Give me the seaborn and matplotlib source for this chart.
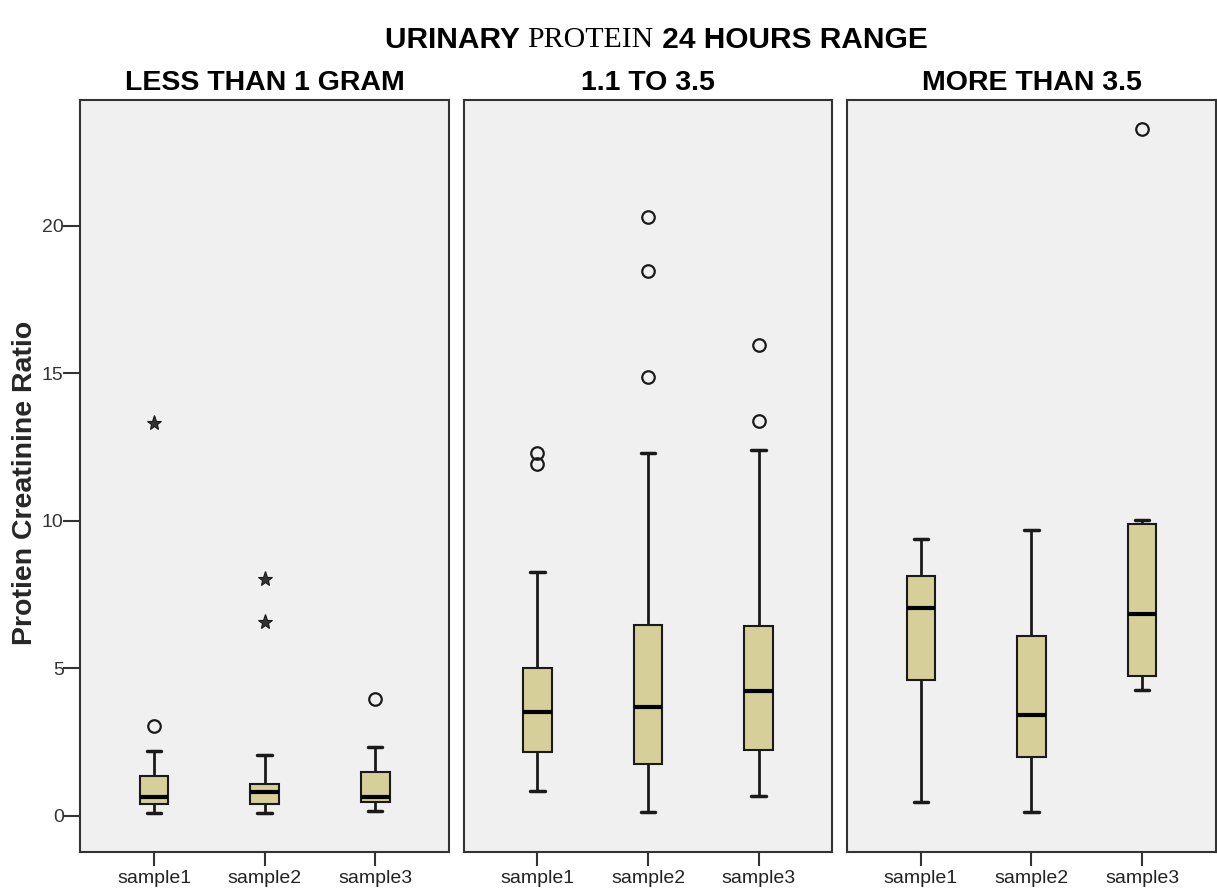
import numpy as np
import pandas as pd
import seaborn as sns
from matplotlib import pyplot as plt

samples = ["sample1", "sample2", "sample3"]
panels = ["LESS THAN 1 GRAM", "1.1 TO 3.5", "MORE THAN 3.5"]

# box summaries per sample: low whisker, Q1, median, Q3, high whisker
less_1g = [[0.09, 0.41, 0.65, 1.33, 2.21],
           [0.09, 0.41, 0.79, 1.08, 2.07],
           [0.15, 0.47, 0.65, 1.47, 2.32]]
mid_range = [[0.85, 2.16, 3.50, 5.02, 8.26],
             [0.12, 1.74, 3.70, 6.45, 12.30],
             [0.68, 2.22, 4.24, 6.44, 12.40]]
more_35 = [[0.45, 4.60, 7.05, 8.12, 9.38],
           [0.14, 1.98, 3.42, 6.10, 9.70],
           [4.25, 4.73, 6.83, 9.90, 10.02]]

# outliers (circles) and extremes (stars) per sample
less_1g_out = [[3.03], [], [3.95]]
less_1g_ext = [[13.31], [8.02, 6.57], []]
mid_range_out = [[12.28, 11.92], [20.30, 18.48, 14.88], [15.94, 13.37]]
mid_range_ext = [[], [], []]
more_35_out = [[], [], [23.27]]
more_35_ext = [[], [], []]

boxes = [less_1g, mid_range, more_35]
outs = [less_1g_out, mid_range_out, more_35_out]
exts = [less_1g_ext, mid_range_ext, more_35_ext]

rows = []
for p, panel in zip(panels, boxes):
    for s, vals in zip(samples, panel):
        for v in vals:
            rows.append((p, s, v))
df = pd.DataFrame(rows, columns=["range", "sample", "ratio"])

sns.set_theme(style="white", rc={"axes.facecolor": "#f0f0f0"})
plt.rcParams["font.family"] = ["Liberation Sans", "DejaVu Sans"]

fig, axes = plt.subplots(1, 3, figsize=(12.17, 8.90), dpi=100, sharey=True)
fig.subplots_adjust(left=0.066, right=0.999, top=0.888, bottom=0.043, wspace=0.04)

for i, ax in enumerate(axes):
    sub = df[df["range"] == panels[i]]
    sns.boxplot(data=sub, x="sample", y="ratio", order=samples, ax=ax,
                whis=(0, 100), showfliers=False, width=0.26,
                color="#d6cf9a", linecolor="#1a1a1a", linewidth=1.5,
                saturation=1,
                medianprops={"color": "black", "linewidth": 3},
                whiskerprops={"linewidth": 2},
                capprops={"linewidth": 2.5})
    for j in range(3):
        if outs[i][j]:
            ax.plot([j] * len(outs[i][j]), outs[i][j], "o", ms=9, mfc="none",
                    mec="#1a1a1a", mew=1.6, zorder=5)
        if exts[i][j]:
            ax.plot([j] * len(exts[i][j]), exts[i][j], "*", ms=11, mfc="#333333",
                    mec="#1a1a1a", mew=0.8, zorder=5)
    ax.set_xlim(-0.667, 2.667)
    ax.set_ylim(-1.22, 24.27)
    ax.set_xlabel("")
    ax.set_ylabel("")
    ax.set_title(panels[i], fontsize=20.5, fontweight="bold", pad=7, color="black")
    for sp in ax.spines.values():
        sp.set_color("#333333")
        sp.set_linewidth(1.5)
    ax.tick_params(axis="x", bottom=True, length=10, width=1.5, color="#333333",
                   labelsize=14, labelcolor="#222222", pad=3)
    ax.tick_params(axis="y", left=(i == 0), length=12, width=1.5, color="#333333",
                   labelsize=14, labelcolor="#333333", pad=0)

axes[0].set_yticks([0, 5, 10, 15, 20])
axes[0].set_ylabel("Protien Creatinine Ratio", fontsize=20.5, fontweight="bold")
axes[0].yaxis.set_label_coords(-0.115, 0.49)

# title with mixed fonts
parts = [("URINARY ", "Liberation Sans", "bold"),
         ("PROTEIN", "Liberation Serif", "normal"),
         (" 24 HOURS RANGE", "Liberation Sans", "bold")]
texts = []
for s, fam, wt in parts:
    texts.append(fig.text(0, 0.955, s, fontsize=21.5, family=fam, fontweight=wt,
                          va="center", ha="left", color="black"))
fig.canvas.draw()
r = fig.canvas.get_renderer()
widths = [t.get_window_extent(r).width for t in texts]
x = 656 - sum(widths) / 2
for t, w in zip(texts, widths):
    t.set_x(x / fig.bbox.width)
    x += w

fig.savefig("out.png", dpi=100)
